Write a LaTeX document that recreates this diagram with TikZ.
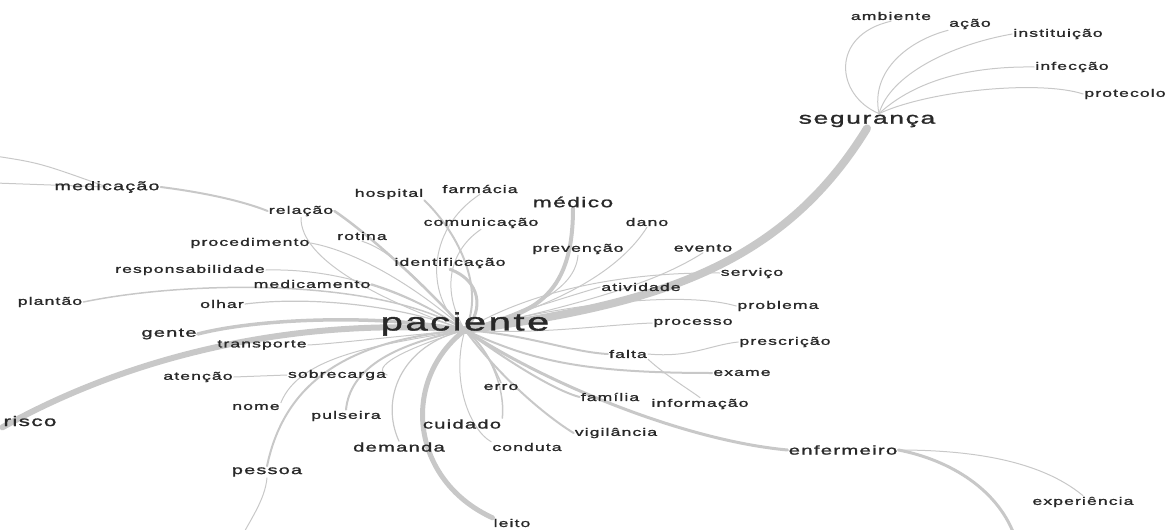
\documentclass[tikz,border=0pt]{standalone}
\usepackage{fontspec}
\newfontfamily\wordfont[FakeStretch=1.6,LetterSpace=10,FakeBold=1.5]{Liberation Sans}
\usetikzlibrary{backgrounds}
\definecolor{wordgray}{RGB}{40,40,40}
\definecolor{linkgray}{RGB}{200,200,200}

\begin{document}
\begin{tikzpicture}[x=1pt, y=-1pt,
                word/.style = {
                    font=\wordfont\fontsize{#1}{#1}\selectfont,
                    text=wordgray, inner sep=1pt
                },
                word/.default=11,
                link/.style = {
                    draw=linkgray, line width=#1, line cap=round
                },
                link/.default=1
                ]
                \useasboundingbox (0,0) rectangle (1171,530);

                \node[word=25] (pac) at (465,324) {paciente};
                \node[word=16.5] (seg) at (867,121) {segurança};
                \node[word] (amb) at (891,16) {ambiente};
                \node[word] (acao) at (970,24) {ação};
                \node[word] (inst) at (1058,34) {instituição};
                \node[word] (infec) at (1072,67) {infecção};
                \node[word] (proto) at (1125,94) {protecolo};

                \node[word=12.3] (medic) at (107,187) {medicação};
                \node[word] (hosp) at (389,194) {hospital};
                \node[word] (farm) at (480,189) {farmácia};
                \node[word=14.2] (medico) at (573,202) {médico};
                \node[word] (relac) at (301,211) {relação};
                \node[word] (comun) at (481,223) {comunicação};
                \node[word] (dano) at (647,222) {dano};
                \node[word] (rotina) at (362,236) {rotina};
                \node[word] (proced) at (250,243) {procedimento};
                \node[word] (prev) at (578,249) {prevenção};
                \node[word] (evento) at (703,248) {evento};
                \node[word] (ident) at (450,263) {identificação};
                \node[word] (resp) at (190,270) {responsabilidade};
                \node[word] (serv) at (752,273) {serviço};
                \node[word] (medicam) at (312,284) {medicamento};
                \node[word] (ativ) at (641,287) {atividade};
                \node[word] (plant) at (50,302) {plantão};
                \node[word] (olhar) at (222,304) {olhar};
                \node[word] (probl) at (778,306) {problema};
                \node[word=12.5] (gente) at (169,334) {gente};
                \node[word] (transp) at (262,345) {transporte};
                \node[word] (proc) at (693,323) {processo};
                \node[word] (presc) at (785,342) {prescrição};
                \node[word] (falta) at (628,354) {falta};
                \node[word] (atenc) at (198,377) {atenção};
                \node[word] (sobre) at (337,375) {sobrecarga};
                \node[word] (exame) at (742,373) {exame};
                \node[word] (erro) at (501,387) {erro};
                \node[word] (famil) at (610,397) {família};
                \node[word] (nome) at (256,407) {nome};
                \node[word] (puls) at (346,416) {pulseira};
                \node[word] (inform) at (700,404) {informação};
                \node[word=14] (risco) at (30,421) {risco};
                \node[word=12.6] (cuid) at (462,424) {cuidado};
                \node[word] (vigil) at (616,433) {vigilância};
                \node[word=12.6] (deman) at (399,447) {demanda};
                \node[word] (cond) at (527,447) {conduta};
                \node[word=12.7] (enf) at (843,450) {enfermeiro};
                \node[word=12.4] (pessoa) at (267,472) {pessoa};
                \node[word] (exper) at (1083,502) {experiência};
                \node[word] (leito) at (512,523) {leito};

                \coordinate (hub) at ([yshift=-6pt]pac.center);
                \coordinate (medoffa) at (-5,156);
                \coordinate (medoffb) at (-5,183);
                \coordinate (enfoff) at (1016,540);
                \coordinate (pessoff) at (240,540);

                \begin{scope}[on background layer]
                \path[link=8] (hub) .. controls (650,305) and (780,270) .. (seg.south);
                \path[link] ([xshift=12pt]seg.north) .. controls (835,95) and (830,35) .. (amb.south);
                \path[link] ([xshift=12pt]seg.north) .. controls (870,70) and (910,40) .. (acao.south west);
                \path[link] ([xshift=12pt]seg.north) .. controls (890,75) and (950,45) .. (inst.west);
                \path[link] ([xshift=12pt]seg.north) .. controls (910,85) and (960,66) .. (infec.west);
                \path[link] ([xshift=12pt]seg.north) .. controls (930,90) and (1040,80) .. (proto.west);

                \path[link=6] (hub) .. controls (320,318) and (150,345) .. (risco.south west);
                \path[link=3.5] (hub) .. controls (380,314) and (260,318) .. (gente.east);
                \path[link=1.2] (hub) .. controls (400,305) and (310,296) .. (olhar.east);
                \path[link=1.5] (hub) .. controls (380,278) and (190,280) .. (plant.east);
                \path[link] (hub) .. controls (420,300) and (350,268) .. (resp.east);
                \path[link=1.5] (hub) .. controls (420,300) and (390,290) .. (medicam.east);
                \path[link] (hub) .. controls (420,290) and (360,252) .. (proced.east);
                \path[link=2.5] (hub) .. controls (430,290) and (370,235) .. (relac.east);
                \path[link] (hub) .. controls (380,300) and (300,260) .. (relac.south);
                \path[link=2] (medic.east) .. controls (200,192) and (240,200) .. (relac.west);
                \path[link] (medoffa) .. controls (40,163) .. (medic.center);
                \path[link] (medoffb) -- (medic.center);
                \path[link] (hub) .. controls (420,280) and (390,250) .. (rotina.south);
                \path[link=2] (hub) .. controls (485,290) and (460,235) .. (hosp.south east);
                \path[link] (hub) .. controls (425,300) and (425,230) .. (farm.south);
                \path[link] (hub) .. controls (440,290) and (450,250) .. (comun.south);
                \path[link=3] (hub) .. controls (485,310) and (480,280) .. (ident.south);

                \path[link=4] (hub) .. controls (530,315) and (573,300) .. (medico.south);
                \path[link] (hub) .. controls (530,310) and (575,290) .. (prev.south);
                \path[link] (hub) .. controls (560,305) and (620,270) .. (dano.south);
                \path[link] (hub) .. controls (600,300) and (660,280) .. (evento.south);
                \path[link] (hub) .. controls (540,285) and (640,272) .. (serv.west);
                \path[link] (hub) .. controls (540,305) and (590,290) .. (ativ.west);
                \path[link] (hub) .. controls (560,305) and (680,290) .. (probl.west);
                \path[link] (hub) .. controls (540,335) and (600,325) .. (proc.west);
                \path[link=2] (hub) .. controls (530,335) and (570,352) .. (falta.west);
                \path[link] (falta.east) .. controls (690,358) and (710,345) .. (presc.west);
                \path[link] (falta.south east) .. controls (665,375) and (690,390) .. (inform.north);
                \path[link=2] (hub) .. controls (530,360) and (580,373) .. (exame.west);
                \path[link=2] (hub) .. controls (520,370) and (560,392) .. (famil.west);
                \path[link=2] (hub) .. controls (510,390) and (560,425) .. (vigil.west);
                \path[link=3] (hub) .. controls (540,380) and (680,440) .. (enf.west);
                \path[link=3] (enf.east) .. controls (950,460) and (1000,490) .. (enfoff);
                \path[link] (enf.east) .. controls (970,450) and (1040,460) .. (exper.north);

                \path[link=1.5] (hub) .. controls (485,345) and (495,370) .. (erro.north);
                \path[link=1.5] (hub) .. controls (495,355) and (505,395) .. (cuid.north east);
                \path[link] (hub) .. controls (450,380) and (470,430) .. (cond.north west);
                \path[link=5] (hub) .. controls (400,380) and (410,480) .. (leito.north west);
                \path[link=1.2] (hub) .. controls (400,345) and (380,400) .. (deman.north);
                \path[link=2] (hub) .. controls (390,345) and (350,370) .. (puls.north);
                \path[link] (hub) .. controls (400,350) and (370,368) .. (sobre.east);
                \path[link] (atenc.east) -- (sobre.west);
                \path[link] (hub) .. controls (380,345) and (300,355) .. (nome.north east);
                \path[link=2] (hub) .. controls (350,340) and (285,380) .. (pessoa.north);
                \path[link] (pessoa.south) .. controls (265,500) and (250,520) .. (pessoff);
                \path[link] (hub) .. controls (380,338) and (330,344) .. (transp.east);
                \end{scope}
            \end{tikzpicture}
\end{document}
